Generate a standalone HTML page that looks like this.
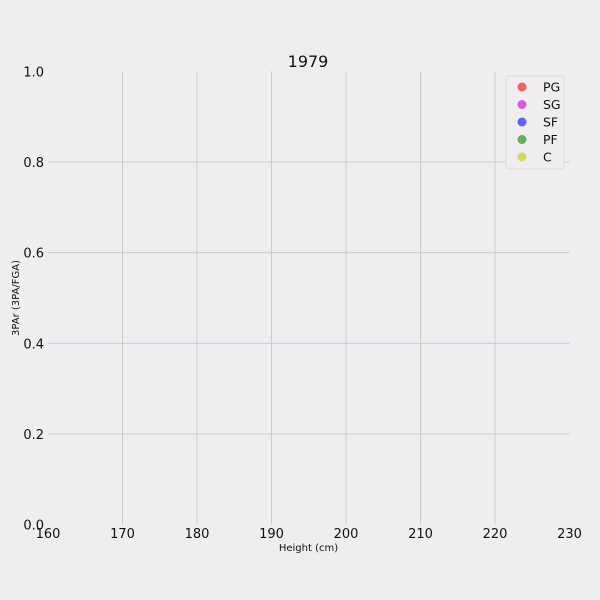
<!DOCTYPE html>
<html><head><meta charset="utf-8"><style>
html,body{margin:0;padding:0;background:#efedf0;}
svg{display:block;font-family:"DejaVu Sans","Liberation Sans",sans-serif;}
</style></head><body>
<svg id="chart" width="600" height="600" viewBox="0 0 600 600">
<rect width="600" height="600" fill="#efedf0"/>
<text x="308" y="67" font-size="16" text-anchor="middle" fill="#111">1979</text>
<g id="grid"></g>
<g id="ticks"></g>
<g id="points"></g>
<text x="308.5" y="551" font-size="10" text-anchor="middle" fill="#111">Height (cm)</text>
<text transform="translate(19,298) rotate(-90)" font-size="10" text-anchor="middle" fill="#111">3PAr (3PA/FGA)</text>
<g id="legend"></g>
</svg>
<script>
const xTicks = [160,170,180,190,200,210,220,230];
const yTicks = [0.0,0.2,0.4,0.6,0.8,1.0];
const positions = ["PG","SG","SF","PF","C"];
const colors = ["#f26060","#d45ed8","#5f63f5","#5fb060","#d8d860"];
const heightsPG = [];
const heightsSG = [];
const heightsSF = [];
const heightsPF = [];
const heightsC = [];
const parPG = [];
const parSG = [];
const parSF = [];
const parPF = [];
const parC = [];

const NS="http://www.w3.org/2000/svg";
const X0=48, X1=569.5, Y0=524.7, Y1=71.3;
function xs(v){return X0+(v-160)/(230-160)*(X1-X0);}
function ys(v){return Y0-(v-0)/(1-0)*(Y0-Y1);}
function mk(tag,attrs,parent){const e=document.createElementNS(NS,tag);for(const k in attrs)e.setAttribute(k,attrs[k]);parent.appendChild(e);return e;}
const grid=document.getElementById('grid'), ticks=document.getElementById('ticks'), pts=document.getElementById('points'), leg=document.getElementById('legend');
xTicks.forEach(t=>{
  if(t>160&&t<230){const l=mk('line',{x1:xs(t),x2:xs(t),y1:Y1,y2:Y0,stroke:'#cbcbcb','stroke-width':1},grid);
  
  }
  const tx=mk('text',{x:xs(t),y:538,'font-size':13,'text-anchor':'middle',fill:'#111'},ticks);
  tx.textContent=t;
  
  
});
yTicks.forEach(t=>{
  if(t>0&&t<1){const l=mk('line',{x1:X0,x2:X1,y1:ys(t),y2:ys(t),stroke:'#cbcbcb','stroke-width':1},grid);
  
  }
  const tx=mk('text',{x:44,y:ys(t)+5,'font-size':13,'text-anchor':'end',fill:'#111'},ticks);
  tx.textContent=t.toFixed(1);
  
  
});
const hs=[heightsPG,heightsSG,heightsSF,heightsPF,heightsC], ps=[parPG,parSG,parSF,parPF,parC];
hs.forEach((arr,i)=>arr.forEach((h,j)=>{
  const c=mk('circle',{cx:xs(h),cy:ys(ps[i][j]),r:5,fill:colors[i],'fill-opacity':0.6},pts);
  
  
}));
const lb=mk('rect',{x:506,y:76,width:58,height:93,rx:3,fill:'#efedf0',stroke:'#dcdcdc','stroke-width':1},leg);


positions.forEach((p,i)=>{
  const y=87+i*17.5;
  const c=mk('circle',{cx:522,cy:y,r:4.5,fill:colors[i]},leg);
  
  
  const t=mk('text',{x:543,y:y+4.5,'font-size':12.5,fill:'#111'},leg);
  t.textContent=p;
  
  
});
</script>
</body></html>
